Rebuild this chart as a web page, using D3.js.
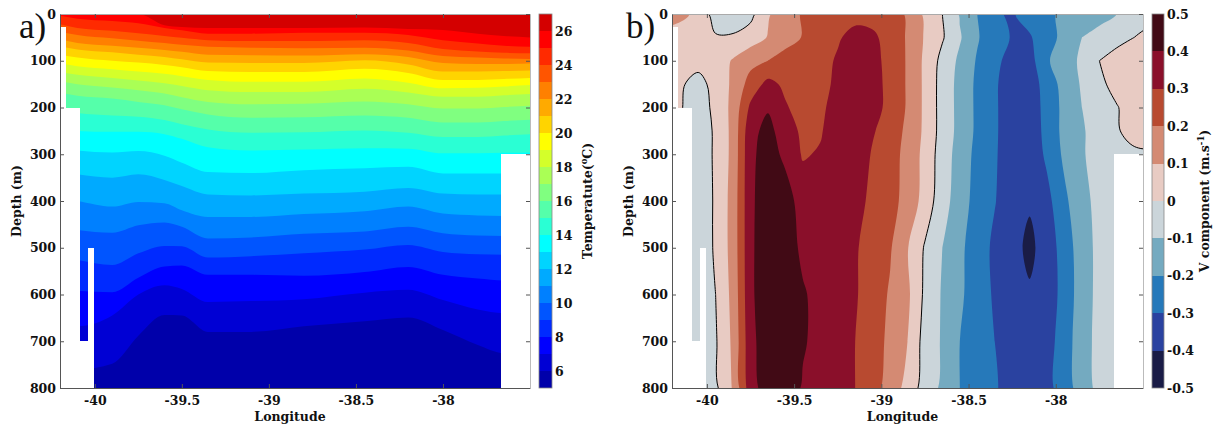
<!DOCTYPE html>
<html>
<head>
<meta charset="utf-8">
<script src="https://cdn.jsdelivr.net/npm/d3@7"></script>
<style>
  html, body { margin: 0; padding: 0; background: #fff; }
  svg { display: block; }
  .tick text, .lbl { font-family: "DejaVu Serif", serif; font-weight: bold; font-size: 12.5px; fill: #111; }
  .panel-tag { font-family: "Liberation Serif", serif; font-size: 35px; fill: #111; }
</style>
</head>
<body>
<svg id="chart" width="1225" height="427"></svg>
<script>
// ---------------- Panel a: temperature section (isotherm depths, m) ----------------
const tempLon = [-40.2, -40.1, -39.9, -39.75, -39.6, -39.5, -39.35, -39.1, -38.8, -38.45, -38.2, -38.0, -37.8, -37.65, -37.5];
const iso26 = [0, 0, 0, 0, 24, 28, 30, 30, 30, 29, 32, 34, 42, 47, 50];
const iso25 = [4, 10, 15, 20, 30, 35, 42, 42, 40, 40, 45, 56, 63, 68, 70];
const iso24 = [22, 30, 36, 41, 47, 51, 56, 58, 58, 56, 62, 75, 80, 83, 84];
const iso23 = [38, 45, 52, 57, 62, 66, 70, 72, 73, 72, 78, 90, 93, 95, 96];
const iso22 = [54, 62, 68, 72, 77, 81, 87, 88, 89, 86, 92, 105, 107, 107, 106];
const iso21 = [69, 76, 82, 87, 92, 97, 104, 105, 105, 99, 108, 123, 123, 122, 121];
const iso20 = [87, 93, 100, 104, 109, 114, 122, 124, 124, 117, 126, 141, 141, 139, 137];
const iso19 = [105, 112, 118, 123, 128, 133, 141, 145, 145, 138, 147, 159, 158, 155, 152];
const iso18 = [124, 130, 137, 142, 148, 154, 163, 167, 167, 160, 168, 177, 177, 174, 171];
const iso17 = [144, 150, 157, 163, 170, 178, 188, 193, 192, 187, 193, 202, 202, 199, 196];
const iso16 = [168, 175, 181, 188, 195, 204, 215, 222, 221, 217, 222, 232, 232, 229, 226];
const iso15 = [205, 212, 217, 220, 227, 236, 247, 254, 253, 249, 254, 263, 263, 260, 257];
const iso14 = [244, 250, 252, 252, 257, 267, 285, 292, 290, 287, 288, 298, 298, 297, 296];
const iso13 = [287, 292, 296, 293, 303, 318, 338, 340, 334, 330, 327, 341, 341, 341, 341];
const iso12 = [337, 343, 350, 343, 355, 368, 386, 388, 384, 380, 372, 384, 386, 386, 386];
const iso11 = [394, 400, 412, 402, 405, 420, 434, 434, 428, 422, 412, 427, 431, 432, 432];
const iso10 = [456, 462, 468, 452, 446, 455, 480, 478, 470, 465, 455, 469, 474, 475, 475];
const iso9  = [520, 526, 537, 512, 496, 497, 521, 518, 512, 504, 494, 509, 514, 515, 515];
const iso8  = [586, 592, 595, 564, 540, 538, 558, 558, 560, 552, 541, 558, 566, 570, 570];
const iso7  = [666, 668, 645, 600, 580, 588, 616, 614, 610, 596, 590, 612, 632, 640, 641];
const iso6  = [760, 760, 748, 688, 644, 645, 680, 680, 668, 657, 649, 676, 708, 726, 728];
const isoLevels = [6, 7, 8, 9, 10, 11, 12, 13, 14, 15, 16, 17, 18, 19, 20, 21, 22, 23, 24, 25, 26];
const isoDepths = [iso6, iso7, iso8, iso9, iso10, iso11, iso12, iso13, iso14, iso15, iso16,
                   iso17, iso18, iso19, iso20, iso21, iso22, iso23, iso24, iso25, iso26];
const tempRange = [5, 27];
const tempTicks = [6, 8, 10, 12, 14, 16, 18, 20, 22, 24, 26];

// ---------------- Panel b: meridional velocity (m/s) on a lon x depth grid ----------------
const velLon = [-40.25, -40.15, -40.05, -39.95, -39.85, -39.75, -39.65, -39.55, -39.45, -39.35,
                -39.25, -39.15, -39.05, -38.95, -38.85, -38.75, -38.65, -38.55, -38.45, -38.35,
                -38.25, -38.15, -38.05, -37.95, -37.85, -37.75, -37.65, -37.55, -37.45];
const velDepth = [0, 50, 100, 150, 200, 250, 300, 400, 500, 600, 700, 800];
const v0   = [0.13, 0.12, 0.08, -0.05, -0.05, -0.03, 0.09, 0.15, 0.21, 0.25, 0.27, 0.27, 0.26, 0.24, 0.19, 0.08, 0.00, -0.11, -0.20, -0.29, -0.31, -0.26, -0.22, -0.18, -0.15, -0.13, -0.10, -0.07, -0.05];
const v50  = [0.07, 0.06, 0.04, 0.01, 0.01, 0.05, 0.105, 0.16, 0.205, 0.26, 0.29, 0.33, 0.32, 0.26, 0.19, 0.09, 0.01, -0.09, -0.19, -0.27, -0.305, -0.31, -0.24, -0.17, -0.10, -0.07, -0.04, 0.00, 0.04];
const v100 = [0.05, 0.04, 0.03, 0.04, 0.11, 0.17, 0.20, 0.24, 0.26, 0.27, 0.31, 0.36, 0.33, 0.27, 0.19, 0.08, -0.03, -0.12, -0.21, -0.28, -0.33, -0.34, -0.21, -0.15, -0.08, 0.00, 0.05, 0.08, 0.11];
const v150 = [0.03, 0.01, -0.03, 0.03, 0.12, 0.24, 0.33, 0.28, 0.25, 0.27, 0.32, 0.37, 0.34, 0.27, 0.19, 0.08, -0.04, -0.13, -0.22, -0.29, -0.34, -0.35, -0.26, -0.16, -0.09, -0.02, 0.03, 0.06, 0.07];
const v200 = [0.02, 0.005, -0.04, 0.02, 0.13, 0.32, 0.39, 0.31, 0.26, 0.28, 0.34, 0.38, 0.34, 0.27, 0.19, 0.08, -0.04, -0.13, -0.22, -0.29, -0.34, -0.35, -0.27, -0.17, -0.10, -0.05, -0.005, 0.04, 0.05];
const v250 = [0.02, 0.00, -0.04, 0.01, 0.13, 0.37, 0.43, 0.35, 0.28, 0.29, 0.36, 0.38, 0.31, 0.25, 0.18, 0.08, -0.04, -0.13, -0.22, -0.29, -0.34, -0.36, -0.27, -0.17, -0.11, -0.06, -0.01, 0.04, 0.05];
const v300 = [0.02, 0.00, -0.04, 0.01, 0.13, 0.38, 0.44, 0.38, 0.29, 0.31, 0.36, 0.37, 0.29, 0.24, 0.17, 0.07, -0.05, -0.14, -0.23, -0.29, -0.35, -0.37, -0.28, -0.18, -0.11, -0.06, -0.02, -0.02, -0.02];
const v400 = [0.02, 0.00, -0.05, 0.01, 0.14, 0.38, 0.46, 0.44, 0.36, 0.35, 0.35, 0.33, 0.28, 0.23, 0.17, 0.06, -0.06, -0.15, -0.24, -0.295, -0.36, -0.39, -0.33, -0.22, -0.13, -0.07, -0.04, -0.03, -0.03];
const v500 = [0.00, -0.02, -0.05, 0.01, 0.14, 0.38, 0.47, 0.45, 0.38, 0.36, 0.34, 0.31, 0.26, 0.21, 0.105, -0.01, -0.10, -0.18, -0.25, -0.32, -0.37, -0.42, -0.36, -0.25, -0.15, -0.07, -0.04, -0.03, -0.03];
const v600 = [0.00, -0.02, -0.05, 0.00, 0.13, 0.38, 0.47, 0.46, 0.41, 0.37, 0.34, 0.31, 0.25, 0.19, 0.12, -0.02, -0.11, -0.18, -0.26, -0.31, -0.36, -0.39, -0.36, -0.26, -0.15, -0.07, -0.04, -0.03, -0.03];
const v700 = [0.00, -0.02, -0.05, -0.01, 0.12, 0.37, 0.46, 0.46, 0.41, 0.37, 0.34, 0.30, 0.24, 0.18, 0.10, -0.04, -0.11, -0.20, -0.27, -0.30, -0.35, -0.38, -0.34, -0.25, -0.14, -0.07, -0.04, -0.03, -0.03];
const v800 = [0.00, -0.02, -0.05, -0.02, 0.11, 0.36, 0.45, 0.46, 0.39, 0.36, 0.33, 0.30, 0.23, 0.17, 0.06, -0.04, -0.12, -0.20, -0.26, -0.29, -0.34, -0.36, -0.33, -0.25, -0.15, -0.07, -0.04, -0.03, -0.03];
const velRows = [v0, v50, v100, v150, v200, v250, v300, v400, v500, v600, v700, v800];
const velLevels = [-0.5, -0.4, -0.3, -0.2, -0.1, 0, 0.1, 0.2, 0.3, 0.4];
const velTicks = [-0.5, -0.4, -0.3, -0.2, -0.1, 0, 0.1, 0.2, 0.3, 0.4, 0.5];

// ---------------- Shared: section extent, missing-data boxes, axis ticks ----------------
const lonExtent = [-40.2, -37.5];
const depthExtent = [0, 800];
// [lon west, lon east, depth top, depth bottom] with no data (shelf / bottom)
const noData = [
  [-40.2, -40.165, 28, 800],
  [-40.165, -40.086, 200, 800],
  [-40.086, -40.04, 700, 800],
  [-40.04, -40.006, 500, 800],
  [-37.667, -37.5, 300, 800]
];
const depthTicks = [0, 100, 200, 300, 400, 500, 600, 700, 800];
const lonTicks = [-40, -39.5, -39, -38.5, -38];

// ---------------- Styles ----------------
const jet22 = ["#0000AA", "#0000D4", "#0000FF", "#002AFF", "#0055FF", "#0080FF", "#00AAFF", "#00D4FF",
               "#00FFFF", "#2AFFD4", "#55FFAA", "#80FF80", "#AAFF55", "#D4FF2A", "#FFFF00", "#FFD400",
               "#FFAA00", "#FF8000", "#FF5500", "#FF2A00", "#FF0000", "#D40000"];
const balance10 = ["#1a1c46", "#2a42a0", "#2679ba", "#74aac0", "#cbd5da",
                   "#e8cbc3", "#d48a73", "#b84a30", "#8a0f2a", "#410a15"];

const svg = d3.select("#chart");
const TOP = 14, BOTTOM = 388;
const yDepth = d3.scaleLinear().domain(depthExtent).range([TOP, BOTTOM]);
const xA = d3.scaleLinear().domain(lonExtent).range([60, 530]);
const xB = d3.scaleLinear().domain(lonExtent).range([672, 1143]);

const defs = svg.append("defs");
function clip(id, x) {
  defs.append("clipPath").attr("id", id).append("rect")
    .attr("x", x.range()[0]).attr("y", TOP)
    .attr("width", x.range()[1] - x.range()[0]).attr("height", BOTTOM - TOP);
}
clip("clipA", xA);
clip("clipB", xB);

// ---------- panel a fill: each isotherm area painted from the surface down ----------
const gA = svg.append("g").attr("clip-path", "url(#clipA)");
gA.append("rect")
  .attr("x", xA(lonExtent[0])).attr("y", yDepth(depthExtent[0]))
  .attr("width", xA(lonExtent[1]) - xA(lonExtent[0]))
  .attr("height", yDepth(depthExtent[1]) - yDepth(depthExtent[0]))
  .attr("fill", jet22[0]);
const isoArea = d3.area()
  .x((d, i) => xA(tempLon[i]))
  .y0(yDepth(0))
  .y1(d => yDepth(d))
  .curve(d3.curveMonotoneX);
isoLevels.forEach((T, k) => {
  gA.append("path").attr("d", isoArea(isoDepths[k])).attr("fill", jet22[T - tempRange[0]]);
});

// ---------- panel b fill: filled contours of the velocity grid ----------
const gB = svg.append("g").attr("clip-path", "url(#clipB)");
const nx = velLon.length, ny = velDepth.length;
const gridValues = velRows.flat();
const bands = d3.contours().size([nx, ny]).thresholds(velLevels)(gridValues);
// grid coordinates -> lon / depth (sample i sits at i + 0.5)
const colToLon = d3.scaleLinear().domain(d3.range(nx).map(i => i + 0.5)).range(velLon);
const rowToDepth = d3.scaleLinear().domain(d3.range(ny).map(i => i + 0.5)).range(velDepth);
const smoothRing = d3.line().curve(d3.curveCatmullRomClosed.alpha(0.5));
function bandPath(mp) {
  return mp.coordinates.map(poly => poly.map(ring =>
    smoothRing(ring.slice(0, -1).map(([c, r]) => [xB(colToLon(c)), yDepth(rowToDepth(r))]))
  ).join("")).join("");
}
bands.forEach((b, k) => {
  gB.append("path").attr("d", bandPath(b)).attr("fill", balance10[k]);
});
const zeroBand = bands.find(b => b.value === 0);
gB.append("path").attr("d", bandPath(zeroBand))
  .attr("fill", "none").attr("stroke", "#000").attr("stroke-width", 1);

// ---------- missing data ----------
function drawGaps(g, x) {
  noData.forEach(r => {
    g.append("rect")
      .attr("x", x(r[0])).attr("y", yDepth(r[2]))
      .attr("width", x(r[1]) - x(r[0])).attr("height", yDepth(r[3]) - yDepth(r[2]))
      .attr("fill", "#fff").attr("shape-rendering", "crispEdges");
  });
}
drawGaps(gA, xA);
drawGaps(gB, xB);

// ---------- axes ----------
function drawAxes(x) {
  const left = x.range()[0], right = x.range()[1];
  svg.append("g").attr("transform", `translate(${left},0)`).attr("color", "#555")
    .call(d3.axisLeft(yDepth).tickValues(depthTicks).tickSize(-4).tickSizeOuter(0).tickPadding(4));
  svg.append("g").attr("transform", `translate(0,${BOTTOM})`).attr("color", "#555")
    .call(d3.axisBottom(x).tickValues(lonTicks).tickSize(-4).tickSizeOuter(0).tickPadding(8)
      .tickFormat(d => String(d)));
  svg.append("g").attr("transform", `translate(0,${TOP})`).attr("color", "#aaa")
    .call(d3.axisTop(x).tickValues(lonTicks).tickSize(-4).tickSizeOuter(0).tickFormat(""))
    .selectAll(".tick line").attr("stroke", "#555");
  svg.append("g").attr("transform", `translate(${right},0)`).attr("color", "#bbb")
    .call(d3.axisRight(yDepth).tickValues(depthTicks).tickSize(-4).tickSizeOuter(0).tickFormat(""))
    .selectAll(".tick line").attr("stroke", "#555");
  const mid = (left + right) / 2 - 5;
  svg.append("text").attr("class", "lbl").attr("x", mid).attr("y", 421)
    .attr("text-anchor", "middle").text("Longitude");
}
drawAxes(xA);
drawAxes(xB);

function yLabel(xBase) {
  svg.append("text").attr("class", "lbl")
    .attr("transform", `translate(${xBase},${(TOP + BOTTOM) / 2}) rotate(-90)`)
    .attr("text-anchor", "middle").text("Depth (m)");
}
yLabel(21);
yLabel(633);

svg.append("text").attr("class", "panel-tag").attr("x", 19).attr("y", 38).text("a)");
svg.append("text").attr("class", "panel-tag").attr("x", 626).attr("y", 38).text("b)");

// ---------- colorbars ----------
function colorbar(x0, x1, domain, colors, ticks, fmt, labelX, labelParts) {
  const s = d3.scaleLinear().domain(domain).range([BOTTOM, TOP]);
  const step = (domain[1] - domain[0]) / colors.length;
  const g = svg.append("g");
  colors.forEach((c, i) => {
    const lo = domain[0] + i * step, hi = domain[0] + (i + 1) * step;
    g.append("rect").attr("x", x0).attr("width", x1 - x0)
      .attr("y", s(hi)).attr("height", s(lo) - s(hi))
      .attr("fill", c).attr("shape-rendering", "crispEdges");
  });
  g.append("rect").attr("x", x0).attr("y", TOP).attr("width", x1 - x0).attr("height", BOTTOM - TOP)
    .attr("fill", "none").attr("stroke", "#888").attr("stroke-width", 0.8);
  ticks.forEach(t => {
    g.append("text").attr("class", "lbl").attr("x", x1 + 3).attr("y", s(t)).attr("dy", "0.36em").text(fmt(t));
  });
  const t = svg.append("text").attr("class", "lbl")
    .attr("transform", `translate(${labelX},${(TOP + BOTTOM) / 2}) rotate(-90)`)
    .attr("text-anchor", "middle");
  labelParts.forEach(p => {
    const span = t.append("tspan").text(p.text);
    if (p.sup) span.attr("dy", -5).attr("font-size", "8.5px");
    if (p.after) span.attr("dy", 5);
  });
}
colorbar(539, 552, tempRange, jet22, tempTicks, d => String(d), 592,
  [{ text: "Temperatute(" }, { text: "o", sup: true }, { text: "C)", after: true }]);
colorbar(1152, 1164, [-0.5, 0.5], balance10, velTicks, d => d === 0 ? "0" : d.toFixed(1), 1209,
  [{ text: "V component (m.s" }, { text: "-1", sup: true }, { text: ")", after: true }]);
</script>
</body>
</html>
